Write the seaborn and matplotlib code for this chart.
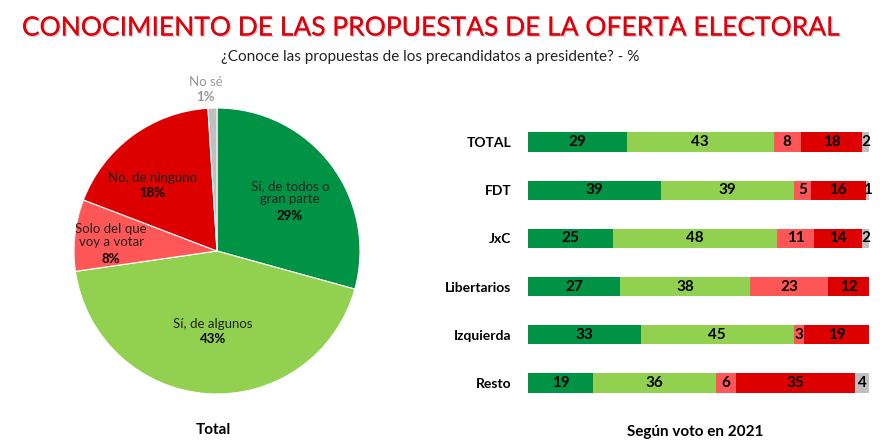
import matplotlib
matplotlib.use("Agg")
import matplotlib.pyplot as plt
import matplotlib.patheffects as pe
import numpy as np
import pandas as pd
import seaborn as sns

# ---- data ----
pie_labels = ["Sí, de todos o\ngran parte", "Sí, de algunos", "Solo del que\nvoy a votar", "No, de ninguno", "No sé"]
pie_values = [29, 43, 8, 18, 1]

groups = ["TOTAL", "FDT", "JxC", "Libertarios", "Izquierda", "Resto"]
seg_names = ["Sí, de todos o gran parte", "Sí, de algunos", "Solo del que voy a votar", "No, de ninguno", "No sé"]
s_todos = [29, 39, 25, 27, 33, 19]
s_algunos = [43, 39, 48, 38, 45, 36]
s_solo = [8, 5, 11, 23, 3, 6]
s_ninguno = [18, 16, 14, 12, 19, 35]
s_nose = [2, 1, 2, 0, 0, 4]

colors = ["#009245", "#92D050", "#FF5757", "#DD0000", "#BFBFBF"]

title = "CONOCIMIENTO DE LAS PROPUESTAS DE LA OFERTA ELECTORAL"
subtitle = "¿Conoce las propuestas de los precandidatos a presidente? - %"

sns.set_theme(style="white")
plt.rcParams["font.family"] = ["Lato", "DejaVu Sans"]

fig = plt.figure(figsize=(8.8, 4.4), dpi=100)
W, H = 880, 440

fig.text(429.5 / W, 1 - 28 / H, title, ha="center", va="center",
         fontsize=19.0, color="#E0000B",
         path_effects=[pe.withSimplePatchShadow(offset=(1, -1), shadow_rgbFace="#999999", alpha=0.5), pe.Normal()])
fig.text(430 / W, 1 - 57 / H, subtitle, ha="center", va="center", fontsize=11, color="#222222")

# ---- pie ----
cx, cy, r = 217, 251, 143
axp = fig.add_axes([(cx - r) / W, (H - cy - r) / H, 2 * r / W, 2 * r / H])
axp.pie(pie_values, colors=colors, startangle=90, counterclock=False,
        wedgeprops=dict(linewidth=0.8, edgecolor="white"))
axp.set_xlim(-1, 1)
axp.set_ylim(-1, 1)
axp.set_aspect("auto")
# label block centres, in pie-radius units
label_pos = [(0.51, 0.34), (-0.03, -0.57), (-0.74, 0.04), (-0.45, 0.45), (-0.08, 1.12)]
lh = 15.0 / r  # line height in radius units
for i, (lab, v) in enumerate(zip(pie_labels, pie_values)):
    x, y = label_pos[i]
    tcol = "#999999" if i == 4 else "#222222"
    pcol = "#999999" if i == 4 else "black"
    n = lab.count("\n") + 1
    top = y + (n + 1) * lh / 2
    axp.text(x, top, lab, ha="center", va="top", fontsize=9.5, color=tcol, linespacing=1.15)
    axp.text(x, top - n * lh, f"{v}%", ha="center", va="top", fontsize=9.5, fontweight="bold", color=pcol)

fig.text(213 / W, 1 - 430 / H, "Total", ha="center", va="center", fontsize=11, fontweight="bold", color="black")

# ---- stacked bars ----
x0, x1 = 528, 869
ytop, ybot = 118, 407
axb = fig.add_axes([x0 / W, (H - ybot) / H, (x1 - x0) / W, (ybot - ytop) / H])
segs = [s_todos, s_algunos, s_solo, s_ninguno, s_nose]
df = pd.DataFrame({"grupo": groups})
cums = np.cumsum(np.array(segs), axis=0)
for i in range(len(segs) - 1, -1, -1):
    df[f"c{i}"] = cums[i]
    sns.barplot(data=df, y="grupo", x=f"c{i}", orient="h", color=colors[i],
                saturation=1, width=0.4, ax=axb, order=groups)
for bar in axb.patches:
    bar.set_linewidth(0)
for j, g in enumerate(groups):
    left = 0
    for i in range(len(segs)):
        v = segs[i][j]
        if v > 0:
            axb.text(left + v / 2, j, str(v), ha="center", va="center", fontsize=11,
                     fontweight="bold", color="black")
        left += v
axb.set_xlim(0, 100)
axb.set_ylim(len(groups) - 0.5, -0.5)
axb.set_xlabel("")
axb.set_ylabel("")
axb.set_xticks([])
axb.tick_params(axis="y", length=0, pad=12)
for t in axb.get_yticklabels():
    t.set_fontweight("bold")
    t.set_fontsize(10)
    t.set_color("black")
sns.despine(ax=axb, left=True, bottom=True)

fig.text(695 / W, 1 - 432 / H, "Según voto en 2021", ha="center", va="center", fontsize=11,
         fontweight="bold", color="black")

fig.savefig("out.png", dpi=100, facecolor="white")
